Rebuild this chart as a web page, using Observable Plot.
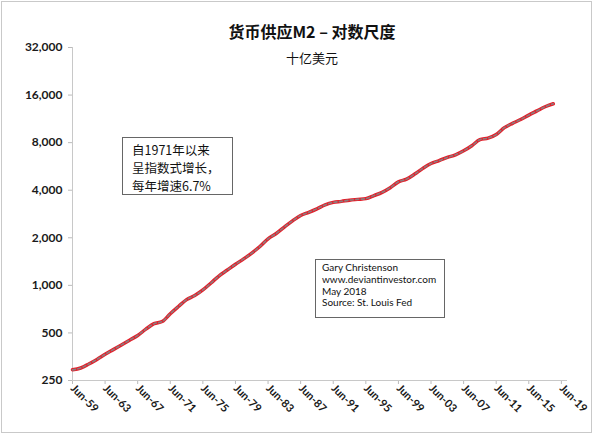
<!DOCTYPE html>
<html><head><meta charset="utf-8">
<script src="https://cdn.jsdelivr.net/npm/d3@7"></script>
<script src="https://cdn.jsdelivr.net/npm/@observablehq/plot@0.6"></script>
<style>
html,body{margin:0;padding:0;background:#fff;}
#wrap{position:relative;width:600px;height:436px;overflow:hidden;font-family:Lato,"Noto Sans CJK SC",sans-serif;}
#frame{position:absolute;left:1px;top:1px;width:591px;height:432px;border:1px solid #c9c9c9;box-sizing:border-box;pointer-events:none;}
.title{position:absolute;left:0;width:624px;text-align:center;color:#111;}
#t1{top:19px;font-size:16px;font-weight:bold;font-family:"Noto Sans CJK SC",sans-serif;}
#t2{top:48px;font-size:13px;font-family:"Noto Sans CJK SC",sans-serif;}
.box{position:absolute;border:1px solid #666;background:#fff;color:#111;box-sizing:border-box;}
#b1{left:122px;top:137px;width:111px;height:58px;padding:3px 0 0 9px;font-size:12.5px;line-height:18px;font-family:"Noto Sans CJK SC",sans-serif;}
#b2{left:315px;top:259px;width:130px;height:59px;padding:2px 0 0 6px;font-size:10px;line-height:11.8px;font-family:Lato,sans-serif;}
#chart{position:absolute;left:0;top:0;}
</style></head>
<body><div id="wrap"><div id="chart"></div>
<div class="title" id="t1"></div><div class="title" id="t2"></div>
<div class="box" id="b1"></div><div class="box" id="b2"></div>
<div id="frame"></div></div>
<script>
const titleText = "货币供应M2 – 对数尺度";
const subtitleText = "十亿美元";
const note1Lines = ["自1971年以来", "呈指数式增长，", "每年增速6.7%"];
const note2Lines = ["Gary Christenson", "www.deviantinvestor.com", "May 2018", "Source: St. Louis Fed"];
const years = [1959,1960,1961,1962,1963,1964,1965,1966,1967,1968,1969,1970,1971,1972,1973,1974,1975,1976,1977,1978,1979,1980,1981,1982,1983,1984,1985,1986,1987,1988,1989,1990,1991,1992,1993,1994,1995,1996,1997,1998,1999,2000,2001,2002,2003,2004,2005,2006,2007,2008,2009,2010,2011,2012,2013,2014,2015,2016,2017,2018];
const m2 = [292,300,318,340,366,392,420,450,482,528,572,590,662,735,812,862,935,1035,1150,1250,1360,1470,1600,1760,1970,2130,2340,2560,2770,2900,3050,3230,3350,3400,3460,3500,3540,3700,3880,4150,4520,4700,5060,5500,5900,6160,6450,6700,7100,7650,8350,8550,9000,9950,10600,11200,11950,12700,13500,14100];
const yTicks = [250,500,1000,2000,4000,8000,16000,32000];
const xTickYears = [1959,1963,1967,1971,1975,1979,1983,1987,1991,1995,1999,2003,2007,2011,2015,2019];

document.getElementById("t1").textContent = titleText;
document.getElementById("t2").textContent = subtitleText;
document.getElementById("b1").innerHTML = note1Lines.map(s=>`<div>${s}</div>`).join("");
document.getElementById("b2").innerHTML = note2Lines.map(s=>`<div>${s}</div>`).join("");

const data = years.map((y,i)=>({date:new Date(y,5,1), v:m2[i]}));
const xTicks = xTickYears.map(y=>new Date(y,5,1));
const fmtX = d3.timeFormat("%b-%y");
const fmtY = d3.format(",");
const x0 = new Date(1959,5,1);

const chart = Plot.plot({
  width:600, height:436,
  marginLeft:72, marginTop:47, marginBottom:56, marginRight:33,
  style:{fontFamily:"Lato, sans-serif", background:"transparent"},
  x:{type:"utc", domain:[x0, new Date(2020,2,1)]},
  y:{type:"log", domain:[250,32000], axis:null},
  marks:[
    Plot.ruleY(yTicks, {y:d=>d, x1:x0, x2:x0, insetLeft:-4, stroke:"#bbb"}),
    Plot.text(yTicks, {y:d=>d, frameAnchor:"left", textAnchor:"end", dx:-10, text:d=>fmtY(d), fontSize:12, fontWeight:"bold", fill:"#1a1a1a"}),
    Plot.axisX({ticks:xTicks, tickFormat:fmtX, tickSize:4, tickPadding:2, tickRotate:45, stroke:"#bbb", fontSize:11, fontWeight:"bold", fill:"#1a1a1a", label:null}),
    Plot.ruleX([x0], {stroke:"#c8c8c8", strokeWidth:1}),
    Plot.ruleY([250], {stroke:"#c8c8c8", strokeWidth:1}),
    Plot.line(data, {x:"date", y:"v", stroke:"#e3202b", strokeWidth:3.5, curve:"monotone-x"}),
    Plot.line(data, {x:"date", y:"v", stroke:"#8c7c7e", strokeWidth:1.6, strokeDasharray:"3,2.5", curve:"monotone-x"})
  ]
});
document.getElementById("chart").appendChild(chart);
</script></body></html>
